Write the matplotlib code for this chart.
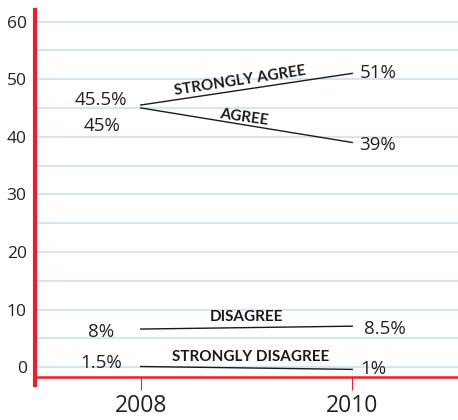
import matplotlib
matplotlib.use('Agg')
import matplotlib.pyplot as plt
from matplotlib.transforms import offset_copy

# survey answers, share in percent
years = [2008, 2010]
strongly_agree = [45.5, 51]
agree = [45, 39]
disagree = [8, 8.5]
strongly_disagree = [1.5, 1]

y_ticks = [0, 10, 20, 30, 40, 50, 60]
grid_levels = list(range(0, 61, 5))

red = '#e8202a'
grid_blue = '#c9e6f7'

plt.rcParams['font.family'] = ['Open Sans', 'DejaVu Sans']

fig = plt.figure(figsize=(4.58, 4.2), dpi=100)
ax = fig.add_axes([35 / 458, (420 - 385) / 420, 1 - 35 / 458, (385 - 10) / 420])

# spines first (set_position resets the ticks)
for s in ['top', 'right']:
    ax.spines[s].set_visible(False)
ax.spines['bottom'].set_position(('data', -1.75))
ax.spines['left'].set_color(red)
ax.spines['left'].set_linewidth(3)
ax.spines['bottom'].set_color(red)
ax.spines['bottom'].set_linewidth(1.8)

for g in grid_levels:
    ax.axhline(g, color=grid_blue, lw=1.3, zorder=0)

# the low lines sit a little under their numbers in the original
low = offset_copy(ax.transData, fig=fig, x=0, y=-8, units='dots')
ax.plot(years, strongly_agree, color='#1a1a1a', lw=1.0, zorder=2)
ax.plot(years, agree, color='#1a1a1a', lw=1.0, zorder=2)
ax.plot(years, disagree, color='#1a1a1a', lw=1.0, zorder=2, transform=low)
ax.plot(years, strongly_disagree, color='#1a1a1a', lw=1.0, zorder=2, transform=low)

# value labels
num = dict(fontsize=13.5, color='#222222', va='center')
ax.text(2007.87, strongly_agree[0] + 0.8, '45.5%', ha='right', **num)
ax.text(2007.81, agree[0] - 3.1, '45%', ha='right', **num)
ax.text(2010.07, strongly_agree[1], '51%', ha='left', **num)
ax.text(2010.07, agree[1] - 0.4, '39%', ha='left', **num)
ax.text(2007.75, disagree[0] - 1.9, '8%', ha='right', **num)
ax.text(2010.11, disagree[1] - 1.9, '8.5%', ha='left', **num)
ax.text(2007.82, strongly_disagree[0] - 0.8, '1.5%', ha='right', **num)
ax.text(2010.08, strongly_disagree[1] - 1.3, '1%', ha='left', **num)

# series names
lab = dict(fontsize=11, fontweight='bold', color='#1a1a1a', family=['Lato', 'DejaVu Sans'],
           ha='center', va='center')
ax.text(2008.94, 49.7, 'STRONGLY AGREE', rotation=8.8, **lab)
ax.text(2008.98, 43.3, 'AGREE', rotation=-8, **lab)
ax.text(2009.0, 8.7, 'DISAGREE', **lab)
ax.text(2009.04, 1.8, 'STRONGLY DISAGREE', **lab)

ax.set_xlim(2007, 2011)
ax.set_ylim(-3.1, 62)
ax.set_xticks(years)
ax.set_xticklabels([str(y) for y in years])
ax.set_yticks(y_ticks)
ax.set_yticklabels([str(v) for v in y_ticks])
ax.tick_params(axis='y', length=0, pad=6, labelsize=12.5, labelcolor='#222222')
ax.tick_params(axis='x', length=9, width=0.8, color=red, pad=3, labelsize=16.5,
               labelcolor='#222222')
ax.patch.set_alpha(0)

fig.savefig('out.png', dpi=100)
